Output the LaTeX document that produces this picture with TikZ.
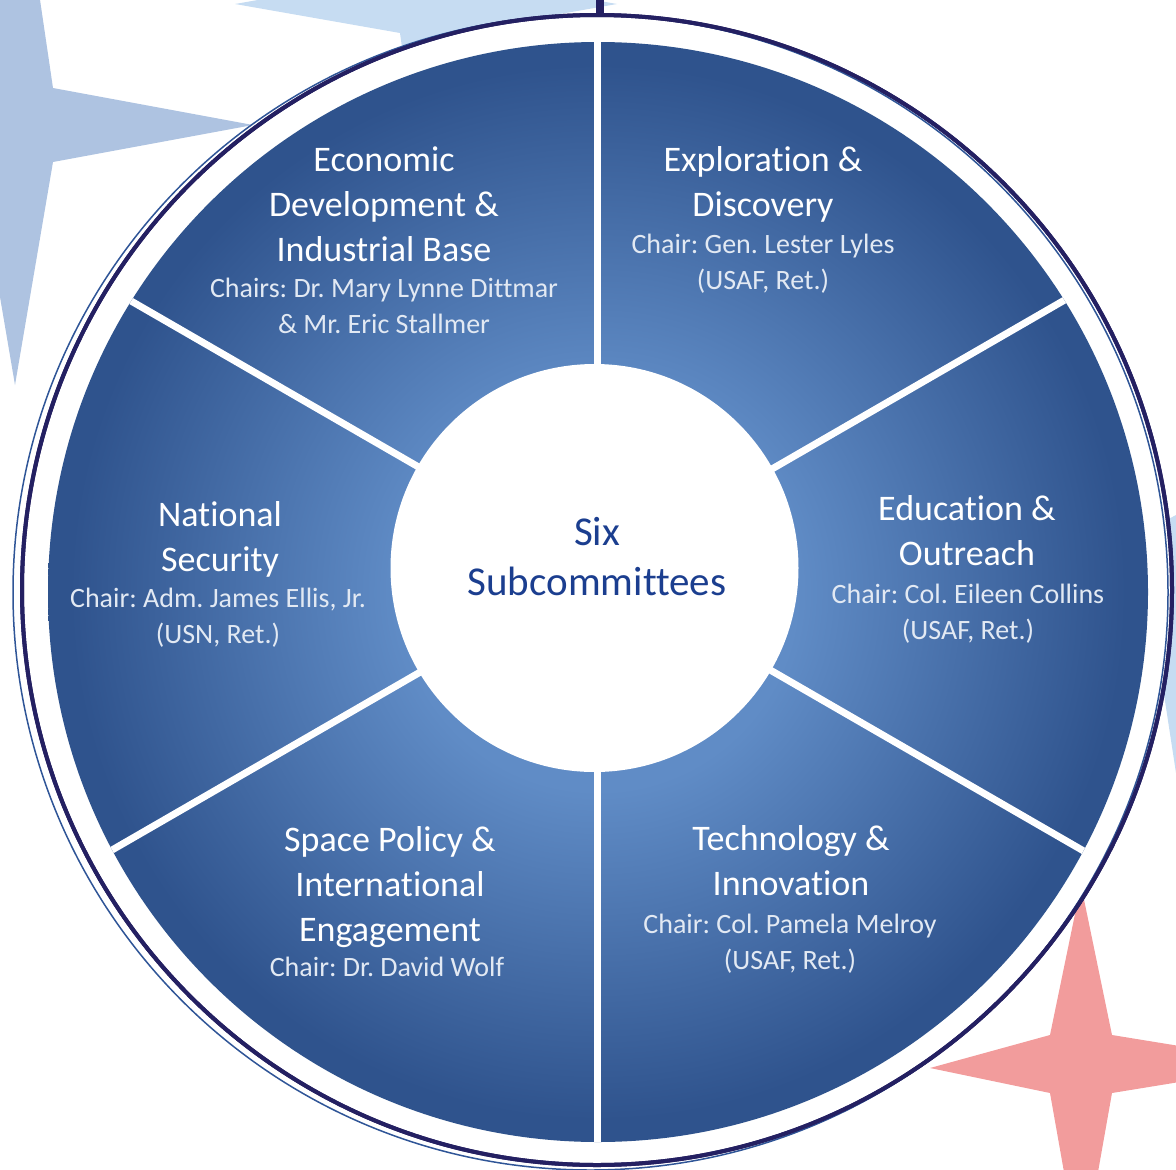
\documentclass[tikz,border=0pt]{standalone}
\usepackage{fontspec}
\setmainfont{Carlito}[Ligatures=NoCommon]
\usepackage{tikz}
\frenchspacing
\definecolor{ringnavy}{RGB}{36,32,98}
\definecolor{ringblue}{RGB}{47,85,151}
\definecolor{segin}{RGB}{96,140,198}
\definecolor{segout}{RGB}{47,83,141}
\definecolor{hubtext}{RGB}{27,62,143}
\definecolor{chairtext}{RGB}{226,233,243}
\definecolor{steelstar}{RGB}{174,195,225}
\definecolor{palestar}{RGB}{198,220,242}
\definecolor{pinkstar}{RGB}{242,156,156}
\pgfdeclareradialshading{diskshade}{\pgfpoint{0bp}{0bp}}{color(0bp)=(segin); color(9bp)=(segin); color(24bp)=(segout); color(50bp)=(segout)}
\tikzstyle{headline}=[text=white,align=center,inner sep=0pt,font=\fontsize{36}{45}\selectfont]
\tikzstyle{chairs}=[text=chairtext,align=center,inner sep=0pt,font=\fontsize{28}{36}\selectfont]
\tikzstyle{hubdisc}=[circle,fill=white,minimum size=408pt,inner sep=0pt]
\tikzstyle{hublabel}=[text=hubtext,align=center,inner sep=0pt,font=\fontsize{41}{50}\selectfont]
\tikzstyle{spoke}=[draw=white,line width=7pt]
\tikzstyle{ring}=[draw=ringnavy,line width=4pt,fill=white]

\begin{document}
\begin{tikzpicture}[x=1pt,y=-1pt]
    \clip (0,0) rectangle (1176,1170);
    % Stars behind the ring
    \fill[steelstar] (15,-170) -- (53,88) -- (253,125) -- (53,162) -- (15,385) -- (-23,162) -- (-223,125) -- (-23,88) -- cycle;
    \fill[palestar] (426,-200) -- (452,-25) -- (617,4) -- (452,33) -- (426,220) -- (400,33) -- (235,4) -- (400,-25) -- cycle;
    \fill[palestar] (1176,515) -- (1204,530) -- (1380,560) -- (1204,590) -- (1176,773) -- (1148,590) -- (1000,560) -- (1148,530) -- cycle;
    \fill[pinkstar] (1081,885) -- (1112,1035) -- (1290,1064) -- (1112,1093) -- (1081,1268) -- (1050,1093) -- (930,1068) -- (1050,1035) -- cycle;
    % Outer ring
    \draw[ring] (597,590) circle (575);
    \draw[ringblue,line width=1.5pt] (590.5,592.5) circle (577.5);
    \draw[ringnavy,line width=4pt] (597,590) circle (575);
    \coordinate (stub) at (600,0);
    \coordinate (ringtop) at (600,14);
    \draw[ringnavy,line width=7.5pt] (stub) -- (ringtop);
    % Six segments
    \shade[shading=diskshade] (598,592) circle (550);
    \coordinate (centre) at (597,570);
    \begin{scope}
        \clip (598,592) circle (550);
        \foreach \a in {30,90,...,330}
            \path[spoke] (centre) -- ++(\a:620);
    \end{scope}
    \node[hubdisc] (hub) at (594.5,568) {};
    \node[hublabel] (hubtext) at (597,557) {Six\\Subcommittees};
    % Subcommittee names
    \foreach \pos/\name/\txt in {{(384,204)/econ/{Economic\\Development \&\\Industrial Base}},
        {(763,184)/explore/{Exploration \&\\Discovery}},
        {(220,539)/security/{National\\Security}},
        {(967,531)/outreach/{Education \&\\Outreach}},
        {(390,887)/policy/{Space Policy \&\\International\\Engagement}},
        {(791,861)/tech/{Technology \&\\Innovation}}}
        \node[headline] (\name) at \pos {\txt};
    % Chairs
    \foreach \pos/\name/\txt in {{(384,306)/econ/{Chairs: Dr. Mary Lynne Dittmar\\\& Mr. Eric Stallmer}},
        {(763,264)/explore/{Chair: Gen. Lester Lyles\\(USAF, Ret.)}},
        {(218,618)/security/{Chair: Adm. James Ellis, Jr.\\(USN, Ret.)}},
        {(968,614)/outreach/{Chair: Col. Eileen Collins\\(USAF, Ret.)}},
        {(387,967)/policy/{Chair: Dr. David Wolf}},
        {(790,944)/tech/{Chair: Col. Pamela Melroy\\(USAF, Ret.)}}}
        \node[chairs] (\name-chair) at \pos {\txt};
\end{tikzpicture}
\end{document}
